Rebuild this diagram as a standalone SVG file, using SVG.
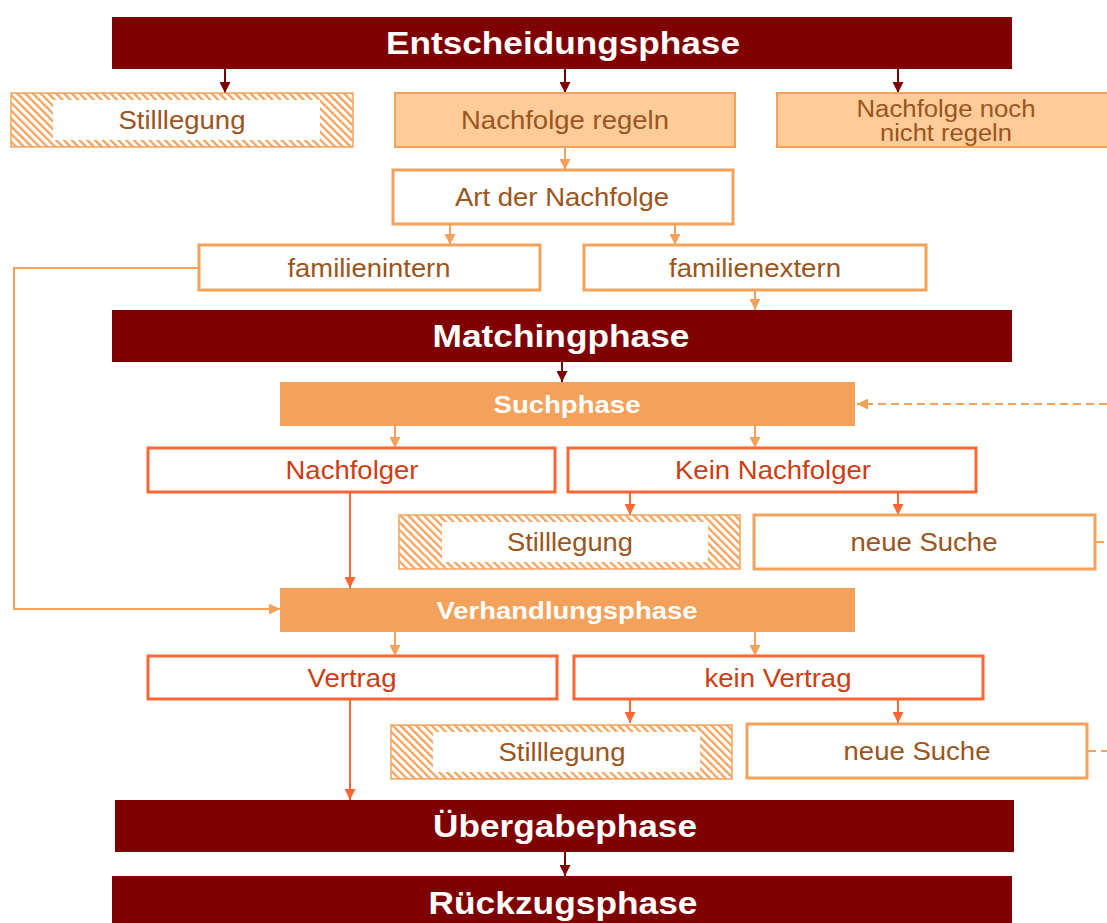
<svg xmlns="http://www.w3.org/2000/svg" width="1107" height="923" viewBox="0 0 1107 923">
  <defs>
    <pattern id="hatch" patternUnits="userSpaceOnUse" width="5.5" height="5.5" patternTransform="rotate(-45)">
      <rect x="0" y="0" width="2.3" height="5.5" fill="#F4A25B"/>
    </pattern>
    <marker id="aDark" viewBox="0 0 10 10" refX="10" refY="5" markerWidth="11" markerHeight="11" markerUnits="userSpaceOnUse" orient="auto">
      <path d="M0,0 L10,5 L0,10 Z" fill="#7F0000"/>
    </marker>
    <marker id="aLight" viewBox="0 0 10 10" refX="10" refY="5" markerWidth="11" markerHeight="11" markerUnits="userSpaceOnUse" orient="auto">
      <path d="M0,0 L10,5 L0,10 Z" fill="#F4A25B"/>
    </marker>
    <marker id="aRed" viewBox="0 0 10 10" refX="10" refY="5" markerWidth="11" markerHeight="11" markerUnits="userSpaceOnUse" orient="auto">
      <path d="M0,0 L10,5 L0,10 Z" fill="#FF6633"/>
    </marker>
  </defs>
  <style>
    .phase { fill: #7F0000; }
    .phaseT { font-family: "Liberation Sans", Arial, sans-serif; font-weight: bold; font-size: 31px; fill: #ffffff; text-anchor: middle; }
    .sub { fill: #F4A25B; }
    .subT { font-family: "Liberation Sans", Arial, sans-serif; font-weight: bold; font-size: 24px; fill: #ffffff; text-anchor: middle; }
    .peach { fill: #FFCC99; stroke: #F4A25B; stroke-width: 2; }
    .box { fill: #ffffff; stroke: #F4A25B; stroke-width: 3; }
    .rbox { fill: #ffffff; stroke: #FF6633; stroke-width: 3; }
    .hframe { fill: none; stroke: #F4A25B; stroke-width: 1.5; }
    .t { font-family: "Liberation Sans", Arial, sans-serif; font-size: 26px; fill: #9A5520; text-anchor: middle; }
    .t2 { font-family: "Liberation Sans", Arial, sans-serif; font-size: 23px; fill: #9A5520; text-anchor: middle; }
    .rt { font-family: "Liberation Sans", Arial, sans-serif; font-size: 26px; fill: #CC3D12; text-anchor: middle; }
    .cD { fill: none; stroke: #7F0000; stroke-width: 2; marker-end: url(#aDark); }
    .cL { fill: none; stroke: #F4A25B; stroke-width: 2; marker-end: url(#aLight); }
    .cR { fill: none; stroke: #FF6633; stroke-width: 2; marker-end: url(#aRed); }
    .dash { fill: none; stroke: #F4A25B; stroke-width: 2; stroke-dasharray: 8 5; }
  </style>

  <g id="connectors">
    <path class="cD" d="M225,69 V93"/>
    <path class="cD" d="M565,69 V93"/>
    <path class="cD" d="M898,69 V93"/>
    <path class="cL" d="M565,147 V170"/>
    <path class="cL" d="M450,224 V245"/>
    <path class="cL" d="M675,224 V245"/>
    <path class="cL" d="M199,268 H14 V609 H280"/>
    <path class="cL" d="M755,290 V310"/>
    <path class="cD" d="M562,362 V382"/>
    <path class="dash" d="M1107,404 H857" marker-end="url(#aLight)"/>
    <path class="cL" d="M395,426 V448"/>
    <path class="cL" d="M755,426 V448"/>
    <path class="cR" d="M630,492 V515"/>
    <path class="cR" d="M898,492 V515"/>
    <path class="dash" d="M1096,542 H1107"/>
    <path class="cR" d="M350,492 V588"/>
    <path class="cL" d="M395,632 V656"/>
    <path class="cL" d="M755,632 V656"/>
    <path class="cR" d="M630,699 V723"/>
    <path class="cR" d="M898,699 V723"/>
    <path class="dash" d="M1088,751 H1107"/>
    <path class="cR" d="M350,699 V800"/>
    <path class="cD" d="M565,852 V876"/>
  </g>

  <g id="entscheidungsphase">
    <rect class="phase" x="112" y="17" width="900" height="52"/>
    <text class="phaseT" x="563" y="54" textLength="354" lengthAdjust="spacingAndGlyphs">Entscheidungsphase</text>
  </g>
  <g id="stilllegung1">
    <rect x="11" y="93" width="342" height="54" fill="url(#hatch)"/>
    <rect x="53" y="100" width="267" height="40" fill="#ffffff"/>
    <rect class="hframe" x="11" y="93" width="342" height="54"/>
    <text class="t" x="182" y="129" textLength="127" lengthAdjust="spacingAndGlyphs">Stilllegung</text>
  </g>
  <g id="nachfolge-regeln">
    <rect class="peach" x="395" y="93" width="340" height="54"/>
    <text class="t" x="565" y="129" textLength="208" lengthAdjust="spacingAndGlyphs">Nachfolge regeln</text>
  </g>
  <g id="nachfolge-nicht-regeln">
    <rect class="peach" x="777" y="93" width="340" height="54"/>
    <text class="t2" x="946" y="117" textLength="179" lengthAdjust="spacingAndGlyphs">Nachfolge noch</text>
    <text class="t2" x="946" y="141" textLength="132" lengthAdjust="spacingAndGlyphs">nicht regeln</text>
  </g>
  <g id="art-der-nachfolge">
    <rect class="box" x="393" y="170" width="340" height="54"/>
    <text class="t" x="562" y="206" textLength="214" lengthAdjust="spacingAndGlyphs">Art der Nachfolge</text>
  </g>
  <g id="familienintern">
    <rect class="box" x="199" y="245" width="341" height="45"/>
    <text class="t" x="369" y="277" textLength="163" lengthAdjust="spacingAndGlyphs">familienintern</text>
  </g>
  <g id="familienextern">
    <rect class="box" x="584" y="245" width="342" height="45"/>
    <text class="t" x="755" y="277" textLength="172" lengthAdjust="spacingAndGlyphs">familienextern</text>
  </g>
  <g id="matchingphase">
    <rect class="phase" x="112" y="310" width="900" height="52"/>
    <text class="phaseT" x="561" y="347" textLength="257" lengthAdjust="spacingAndGlyphs">Matchingphase</text>
  </g>
  <g id="suchphase">
    <rect class="sub" x="280" y="382" width="575" height="44"/>
    <text class="subT" x="567" y="413" textLength="147" lengthAdjust="spacingAndGlyphs">Suchphase</text>
  </g>
  <g id="nachfolger">
    <rect class="rbox" x="148" y="448" width="407" height="44"/>
    <text class="rt" x="352" y="479" textLength="133" lengthAdjust="spacingAndGlyphs">Nachfolger</text>
  </g>
  <g id="kein-nachfolger">
    <rect class="rbox" x="568" y="448" width="408" height="44"/>
    <text class="rt" x="773" y="479" textLength="196" lengthAdjust="spacingAndGlyphs">Kein Nachfolger</text>
  </g>
  <g id="stilllegung2">
    <rect x="399" y="515" width="341" height="54" fill="url(#hatch)"/>
    <rect x="442" y="522" width="266" height="40" fill="#ffffff"/>
    <rect class="hframe" x="399" y="515" width="341" height="54"/>
    <text class="t" x="570" y="551" textLength="126" lengthAdjust="spacingAndGlyphs">Stilllegung</text>
  </g>
  <g id="neue-suche1">
    <rect class="box" x="754" y="515" width="341" height="54"/>
    <text class="t" x="924" y="551" textLength="147" lengthAdjust="spacingAndGlyphs">neue Suche</text>
  </g>
  <g id="verhandlungsphase">
    <rect class="sub" x="280" y="588" width="575" height="44"/>
    <text class="subT" x="567" y="619" textLength="261" lengthAdjust="spacingAndGlyphs">Verhandlungsphase</text>
  </g>
  <g id="vertrag">
    <rect class="rbox" x="148" y="656" width="409" height="43"/>
    <text class="rt" x="352" y="687" textLength="89" lengthAdjust="spacingAndGlyphs">Vertrag</text>
  </g>
  <g id="kein-vertrag">
    <rect class="rbox" x="574" y="656" width="409" height="43"/>
    <text class="rt" x="778" y="687" textLength="147" lengthAdjust="spacingAndGlyphs">kein Vertrag</text>
  </g>
  <g id="stilllegung3">
    <rect x="391" y="725" width="341" height="54" fill="url(#hatch)"/>
    <rect x="433" y="732" width="267" height="40" fill="#ffffff"/>
    <rect class="hframe" x="391" y="725" width="341" height="54"/>
    <text class="t" x="562" y="761" textLength="127" lengthAdjust="spacingAndGlyphs">Stilllegung</text>
  </g>
  <g id="neue-suche2">
    <rect class="box" x="747" y="724" width="340" height="54"/>
    <text class="t" x="917" y="760" textLength="147" lengthAdjust="spacingAndGlyphs">neue Suche</text>
  </g>
  <g id="uebergabephase">
    <rect class="phase" x="115" y="800" width="899" height="52"/>
    <text class="phaseT" x="565" y="837" textLength="264" lengthAdjust="spacingAndGlyphs">Übergabephase</text>
  </g>
  <g id="rueckzugsphase">
    <rect class="phase" x="112" y="876" width="900" height="52"/>
    <text class="phaseT" x="563" y="914" textLength="269" lengthAdjust="spacingAndGlyphs">Rückzugsphase</text>
  </g>
</svg>
